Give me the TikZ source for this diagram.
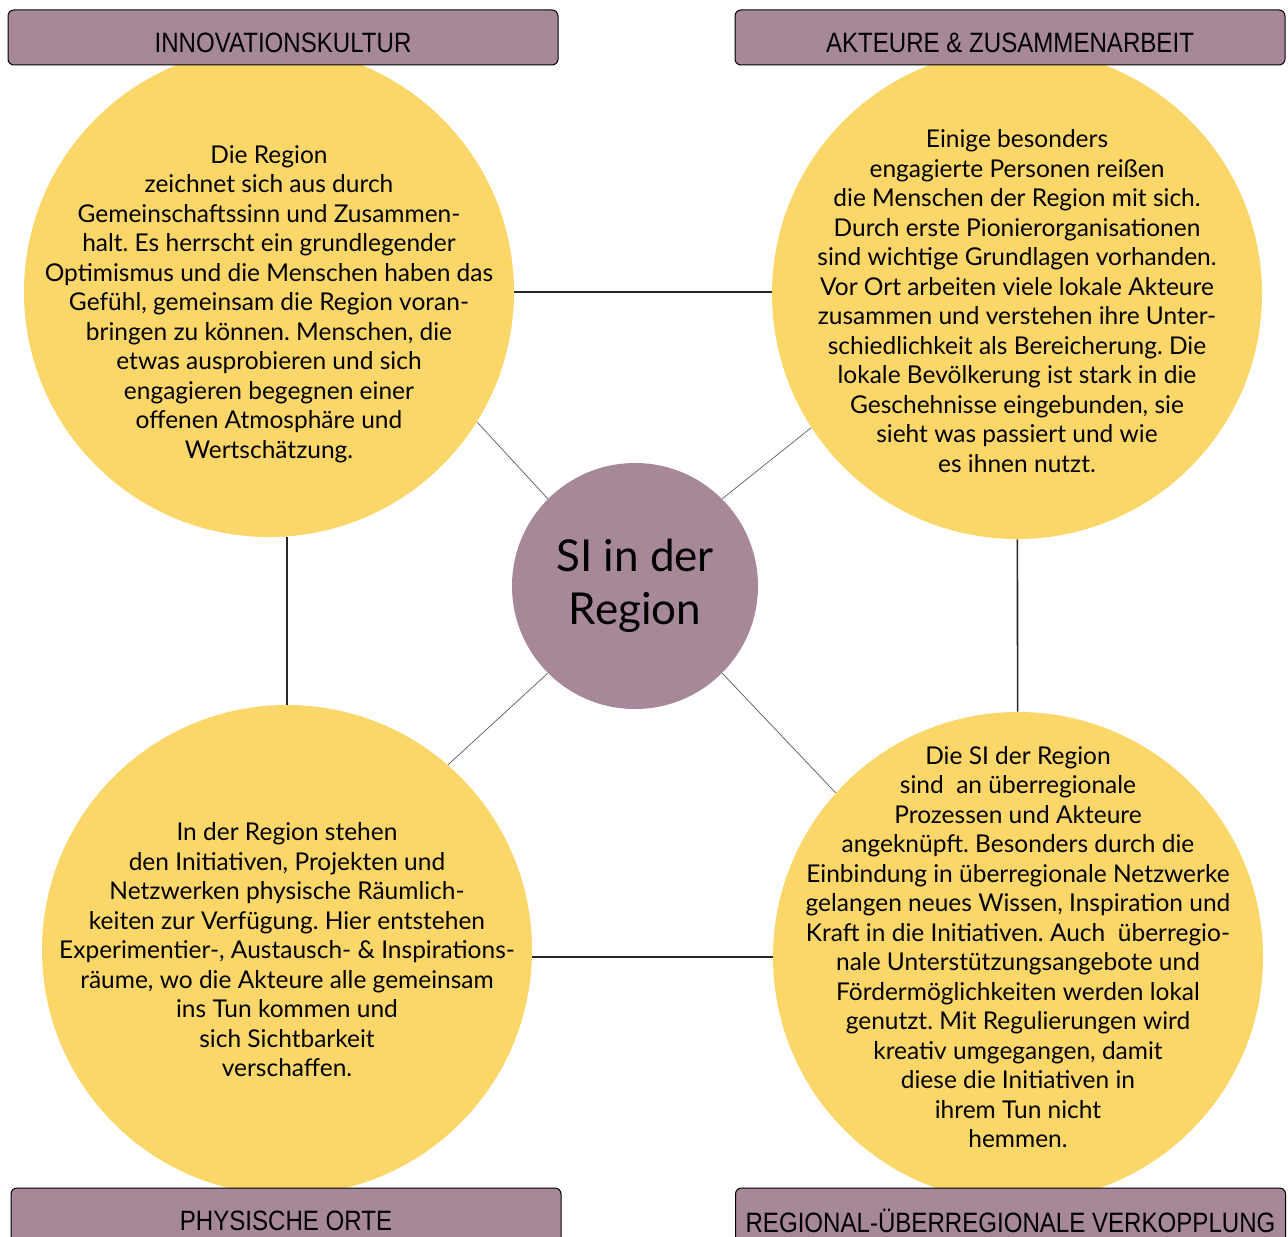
\documentclass[tikz,border=0pt]{standalone}
\usepackage{fontspec}
\usepackage{xcolor}
\setmainfont{Lato}
\newfontfamily\headfont[FakeStretch=0.86]{Liberation Sans}
\frenchspacing

\definecolor{mauve}{RGB}{167,136,153}
\definecolor{sunny}{RGB}{251,214,104}

\tikzset{
    bubble/.style={circle, fill=sunny, minimum size=245pt, inner sep=0pt},
    hub/.style={circle, fill=mauve, minimum size=123pt, inner sep=0pt, align=center, font=\fontsize{22}{26.5}\selectfont},
    blurb/.style={align=center, inner sep=0pt, font=\fontsize{12.25}{14.75}\selectfont},
    tab/.style={draw=black, line width=0.5pt, fill=mauve, rounded corners=3pt, minimum width=275pt, minimum height=27.5pt, inner sep=0pt},
    tabtext/.style={inner sep=0pt, font=\headfont\fontsize{14}{16}\selectfont},
    link/.style={draw=black!85, line width=0.8pt},
    spoke/.style={draw=black!65, line width=0.35pt},
}

\begin{document}
\begin{tikzpicture}[x=0.5pt,y=0.5pt,yscale=-1,xscale=1]
    \useasboundingbox (0,0) rectangle (1288,1236);

    %Shape: Circle
    \node [bubble] (tl) at (269,292) {};
    %Shape: Circle
    \node [bubble] (tr) at (1017,294) {};
    %Shape: Circle
    \node [bubble] (bl) at (287,950) {};
    %Shape: Circle
    \node [bubble] (br) at (1018,957) {};
    %Shape: Circle
    \node [hub] (si) at (635,586) {SI in der\\Region};

    %Straight Lines
    \draw [link] (tl.east) -- (tl.east -| tr.west);
    \draw [link] (br.west) -- (br.west -| bl.east);
    \draw [link] (bl.north) -- (bl.north |- tl.south);
    \draw [link] (tr) -- (br);
    %Straight Lines
    \draw [spoke] (si.north west) -- (tl.-32);
    \draw [spoke] (si.north east) -- (tr.213);
    \draw [spoke] (si.south west) -- (bl.49);
    \draw [spoke] (si.south east) -- (br.138);

    % Text Node
    \node [blurb, yshift=-6pt] (tltext) at (tl) {Die Region\\zeichnet sich aus durch\\Gemeinschaftssinn und Zusammen-\\halt. Es herrscht ein grundlegender\\Optimismus und die Menschen haben das\\Gefühl, gemeinsam die Region voran-\\bringen zu können. Menschen, die\\etwas ausprobieren und sich\\engagieren begegnen einer\\offenen Atmosphäre und\\Wertschätzung.};
    % Text Node
    \node [blurb, yshift=-3.5pt] (trtext) at (tr) {Einige besonders\\engagierte Personen reißen\\die Menschen der Region mit sich.\\Durch erste Pionierorganisationen\\sind wichtige Grundlagen vorhanden.\\Vor Ort arbeiten viele lokale Akteure\\zusammen und verstehen ihre Unter-\\schiedlichkeit als Bereicherung. Die\\lokale Bevölkerung ist stark in die\\Geschehnisse eingebunden, sie\\sieht was passiert und wie\\es ihnen nutzt.};
    % Text Node
    \node [blurb] (bltext) at (bl) {In der Region stehen\\den Initiativen, Projekten und\\Netzwerken physische Räumlich-\\keiten zur Verfügung. Hier entstehen\\Experimentier-, Austausch- \& Inspirations-\\räume, wo die Akteure alle gemeinsam\\ins Tun kommen und\\sich Sichtbarkeit\\verschaffen.};
    % Text Node
    \node [blurb, yshift=5pt] (brtext) at (br) {Die SI der Region\\sind~ an überregionale\\Prozessen und Akteure\\angeknüpft. Besonders durch die\\Einbindung in überregionale Netzwerke\\gelangen neues Wissen, Inspiration und\\Kraft in die Initiativen. Auch~ überregio-\\nale Unterstützungsangebote und\\Fördermöglichkeiten werden lokal\\genutzt. Mit Regulierungen wird\\kreativ umgegangen, damit\\diese die Initiativen in\\ihrem Tun nicht\\hemmen.};

    %Shape: Rectangle
    \node [tab] (tltab) at (283,37.5) {};
    \node [tabtext, yshift=-2.5pt] (tltabtext) at (tltab) {INNOVATIONSKULTUR};
    %Shape: Rectangle
    \node [tab] (trtab) at (1010,37.5) {};
    \node [tabtext, yshift=-2.5pt] (trtabtext) at (trtab) {AKTEURE \& ZUSAMMENARBEIT};
    %Shape: Rectangle
    \node [tab] (bltab) at (286,1215.5) {};
    \node [tabtext, yshift=-2.5pt] (bltabtext) at (bltab) {PHYSISCHE ORTE};
    %Shape: Rectangle
    \node [tab] (brtab) at (1010.5,1215.5) {};
    \node [tabtext, yshift=-2.5pt] (brtabtext) at (brtab) {REGIONAL-ÜBERREGIONALE VERKOPPLUNG};

\end{tikzpicture}
\end{document}
